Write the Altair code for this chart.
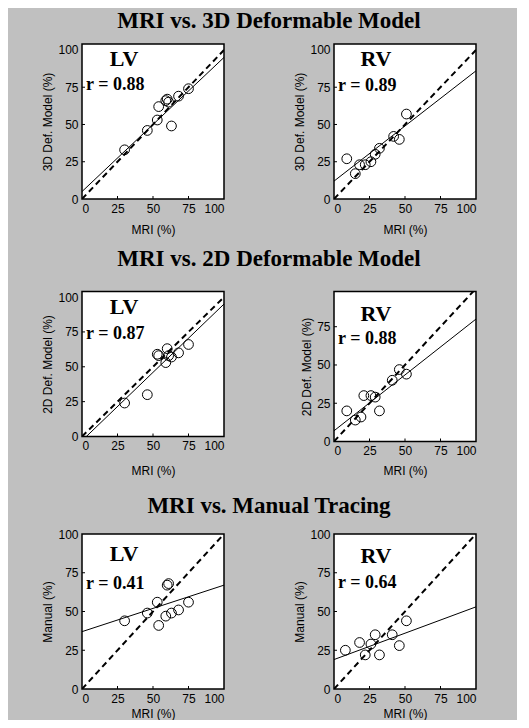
import altair as alt
import pandas as pd

# ---------------- data ----------------
row_titles = ["MRI vs. 3D Deformable Model", "MRI vs. 2D Deformable Model", "MRI vs. Manual Tracing"]
y_titles = ["3D Def. Model (%)", "2D Def. Model (%)", "Manual (%)"]
chambers = ["LV", "RV"]
ticks = [0, 25, 50, 75, 100]
inner_ticks = [25, 50, 75]

lv_mri = [30, 46, 53, 54, 59, 60, 61, 63, 68, 75]
rv_mri = [9, 15, 18, 22, 26, 29, 32, 42, 46, 51]

lv_3d = [33, 46, 53, 62, 66, 67, 65, 49, 69, 74]
rv_3d = [27, 17, 23, 23, 25, 30, 34, 42, 40, 57]

lv_2d = [24, 30, 59, 58, 53, 63, 58, 57, 60, 66]
rv_2d_mri = [9, 15, 19, 21, 26, 29, 32, 41, 46, 51]
rv_2d = [20, 14, 16, 30, 30, 29, 20, 40, 47, 44]

lv_manual = [44, 49, 56, 41, 47, 67, 68, 49, 51, 56]
rv_manual_mri = [8, 18, 22, 26, 29, 32, 41, 46, 51]
rv_manual = [25, 30, 22, 29, 35, 22, 35, 28, 44]

# regression line: value at MRI = 0 and at MRI = 100
fit_x = [0, 100]
fit_lv_3d = [5, 95]
fit_rv_3d = [12, 86]
fit_lv_2d = [-3, 95]
fit_rv_2d = [7, 80]
fit_lv_manual = [37, 67]
fit_rv_manual = [19, 53]

r_values = [[0.88, 0.89], [0.87, 0.88], [0.41, 0.64]]

SERIF = "Liberation Serif"
SANS = "Liberation Sans"


def panel(mri, val, fit, r, label, ytitle, ytop, h, lab_y, r_y, xtpad, title=None, title_y=0):
    pts = pd.DataFrame({"mri": mri, "val": val})
    ident = pd.DataFrame({"mri": fit_x, "val": fit_x})
    fitdf = pd.DataFrame({"mri": fit_x, "val": fit})
    xs = alt.Scale(domain=[0, 100], nice=False, zero=False)
    ys = alt.Scale(domain=[0, ytop], nice=False, zero=False)
    xenc = alt.X("mri:Q", scale=xs, title="MRI (%)",
                 axis=alt.Axis(values=ticks, labelPadding=4, titlePadding=xtpad))
    yenc = alt.Y("val:Q", scale=ys, title=ytitle,
                 axis=alt.Axis(values=ticks, labelPadding=4, titlePadding=3))
    dashed = alt.Chart(ident).mark_line(color="black", strokeDash=[6, 4], strokeWidth=2,
                                        clip=True).encode(x=xenc, y=yenc)
    fitl = alt.Chart(fitdf).mark_line(color="black", strokeWidth=1, clip=True).encode(x=xenc, y=yenc)
    dots = alt.Chart(pts).mark_point(shape="circle", filled=False, size=95, color="black",
                                     strokeWidth=1, opacity=1).encode(x=xenc, y=yenc)
    xt = alt.Chart(pd.DataFrame({"mri": inner_ticks})).mark_rule(color="black", strokeWidth=1).encode(
        x=xenc, y=alt.value(h), y2=alt.value(h - 3))
    yt = alt.Chart(pd.DataFrame({"val": inner_ticks})).mark_rule(color="black", strokeWidth=1).encode(
        y=yenc, x=alt.value(0), x2=alt.value(3))
    t1 = alt.Chart(pd.DataFrame({"t": [label]})).mark_text(
        font=SERIF, fontWeight="bold", fontSize=22, align="center", baseline="middle",
        color="black").encode(text="t:N", x=alt.value(42), y=alt.value(lab_y))
    t2 = alt.Chart(pd.DataFrame({"t": [f"r = {r:.2f}"]})).mark_text(
        font=SERIF, fontWeight="bold", fontSize=18, align="left", baseline="middle",
        color="black").encode(text="t:N", x=alt.value(4), y=alt.value(r_y))
    layers = [xt, yt, dashed, fitl, dots, t1, t2]
    if title is not None:
        layers.append(alt.Chart(pd.DataFrame({"t": [title]})).mark_text(
            font=SERIF, fontWeight="bold", fontSize=23, align="center", baseline="middle",
            color="black").encode(text="t:N", x=alt.value(187), y=alt.value(title_y)))
    return alt.layer(*layers).properties(width=142, height=h)


panels = [
    panel(lv_mri, lv_3d, fit_lv_3d, r_values[0][0], chambers[0], y_titles[0], 104, 155, 15, 41, 10,
          row_titles[0], -23),
    panel(rv_mri, rv_3d, fit_rv_3d, r_values[0][1], chambers[1], y_titles[0], 104, 155, 15, 42, 10),
    panel(lv_mri, lv_2d, fit_lv_2d, r_values[1][0], chambers[0], y_titles[1], 104, 145, 15, 42, 14,
          row_titles[1], -33),
    panel(rv_2d_mri, rv_2d, fit_rv_2d, r_values[1][1], chambers[1], y_titles[1], 98, 150, 22, 47, 9),
    panel(lv_mri, lv_manual, fit_lv_manual, r_values[2][0], chambers[0], y_titles[2], 100, 155, 20, 50, 4,
          row_titles[2], -28),
    panel(rv_manual_mri, rv_manual, fit_rv_manual, r_values[2][1], chambers[1], y_titles[2], 100, 155, 22, 49, 4),
]

chart = alt.concat(*panels, columns=2, bounds="flush", align="each",
                   spacing=alt.RowColnumber(row=92.5, column=110)).properties(
    padding={"left": 33, "top": 1, "right": 40, "bottom": 0}
).configure(background="#c0c0c0").configure_view(
    stroke="black", strokeWidth=1.5, fill="white"
).configure_axis(
    labelFont=SANS, labelFontSize=12, labelColor="black",
    titleFont=SANS, titleFontSize=12, titleFontWeight="normal", titleColor="black",
    domain=False, ticks=False, grid=False
)

chart.save("out.html", embed_options={"renderer": "svg", "actions": False})
